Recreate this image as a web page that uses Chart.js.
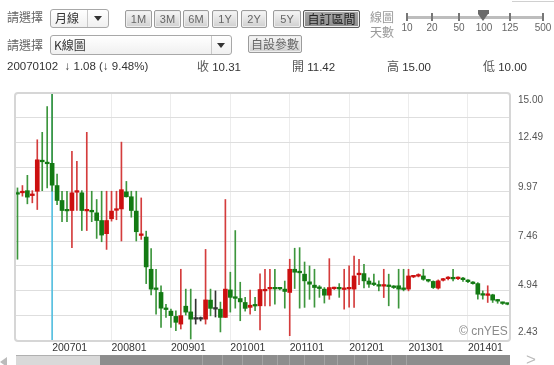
<!DOCTYPE html>
<html><head><meta charset="utf-8">
<script src="https://cdn.jsdelivr.net/npm/chart.js@4/dist/chart.umd.min.js"></script>
<style>
body{margin:0;background:#fff;}
#wrap{position:relative;width:554px;height:365px;overflow:hidden;font-family:"Liberation Sans",Arial,sans-serif;}
#c{position:absolute;left:0;top:0;}
.t{position:absolute;white-space:pre;line-height:1;color:#444;}
.cjk{font-family:"Noto Sans CJK TC","Noto Sans CJK SC",sans-serif;}
.btn{position:absolute;top:10px;height:18px;box-sizing:border-box;border:1px solid #9c9c9c;border-radius:2px;background:linear-gradient(#f7f7f7,#d0d0d0);font-size:11px;color:#666;text-align:center;line-height:16px;box-shadow:inset 0 0 0 1px #eee;}
.sel{position:absolute;box-sizing:border-box;border:1px solid #a8a8a8;border-radius:3px;background:linear-gradient(#fff,#f0f0f0);}
.sel .dv{position:absolute;top:0;bottom:0;width:1px;background:#c8c8c8;}
.arr{position:absolute;width:0;height:0;border-left:4px solid transparent;border-right:4px solid transparent;border-top:5px solid #333;}
.tk{position:absolute;top:13px;width:2px;height:8px;background:#777;}
.tl{position:absolute;top:22px;font-size:10px;color:#666;width:24px;margin-left:-12px;text-align:center;}
.box{position:absolute;left:14px;top:92px;width:497px;height:250px;box-sizing:border-box;border:2px solid #d6d6d6;border-radius:4px;pointer-events:none;}
.nv{position:absolute;top:355px;width:1px;height:10px;background:#a4a4a4;}
</style></head>
<body><div id="wrap">
<canvas id="c" width="554" height="365"></canvas>
<div class="box"></div>

<!-- row 1 -->
<div class="t cjk" style="left:7px;top:11px;font-size:12px;color:#666;">請選擇</div>
<div class="sel" style="left:50px;top:9px;width:59px;height:19px;">
  <div class="t cjk" style="left:4px;top:2px;font-size:12px;color:#333;">月線</div>
  <div class="dv" style="left:36px;"></div>
  <div class="arr" style="left:43px;top:6px;"></div>
</div>
<div class="btn" style="left:125px;width:27px;">1M</div>
<div class="btn" style="left:154px;width:27px;">3M</div>
<div class="btn" style="left:183px;width:26px;">6M</div>
<div class="btn" style="left:212px;width:26px;">1Y</div>
<div class="btn" style="left:241px;width:26px;">2Y</div>
<div class="btn" style="left:273px;width:28px;">5Y</div>
<div class="btn cjk" style="left:303px;width:57px;background:linear-gradient(#a8a8a8,#8e8e8e);border-color:#5a5a5a;color:#222;font-size:12px;">自訂區間</div>
<div class="t cjk" style="left:370px;top:9px;font-size:12px;color:#999;line-height:15px;">線圖<br>天數</div>
<div style="position:absolute;left:406px;top:16px;width:138px;height:3px;background:#bdbdbd;"></div>
<div class="tk" style="left:406px;"></div><div class="tk" style="left:431px;"></div><div class="tk" style="left:458px;"></div><div class="tk" style="left:509px;"></div><div class="tk" style="left:542px;"></div>
<div style="position:absolute;left:478px;top:10px;width:11px;height:4px;background:#6a6a6a;"></div>
<div style="position:absolute;left:478px;top:14px;width:0;height:0;border-left:5.5px solid transparent;border-right:5.5px solid transparent;border-top:7px solid #6a6a6a;"></div>
<div class="tl" style="left:407px;">10</div><div class="tl" style="left:432px;">20</div><div class="tl" style="left:459px;">50</div><div class="tl" style="left:484px;">100</div><div class="tl" style="left:510px;">125</div><div class="tl" style="left:543px;">500</div>
<div style="position:absolute;left:512px;top:1px;width:42px;height:1px;background:#d0d0d0;"></div>

<!-- row 2 -->
<div class="t cjk" style="left:7px;top:39px;font-size:12px;color:#666;">請選擇</div>
<div class="sel" style="left:50px;top:35px;width:182px;height:20px;">
  <div class="t cjk" style="left:3px;top:3px;font-size:12px;color:#333;">K線圖</div>
  <div class="dv" style="left:160px;"></div>
  <div class="arr" style="left:166px;top:7px;"></div>
</div>
<div class="btn cjk" style="left:248px;top:35px;width:54px;font-size:12px;">自設參數</div>

<!-- row 3 -->
<div class="t" style="left:7px;top:61px;font-size:11.5px;color:#333;">20070102  ↓ 1.08 (↓ 9.48%)</div>
<div class="t" style="left:197px;top:60px;font-size:11.5px;color:#333;"><span class="cjk" style="font-size:12px;color:#555;">收</span> 10.31</div>
<div class="t" style="left:292px;top:60px;font-size:11.5px;color:#333;"><span class="cjk" style="font-size:12px;color:#555;">開</span> 11.42</div>
<div class="t" style="left:387px;top:60px;font-size:11.5px;color:#333;"><span class="cjk" style="font-size:12px;color:#555;">高</span> 15.00</div>
<div class="t" style="left:483px;top:60px;font-size:11.5px;color:#333;"><span class="cjk" style="font-size:12px;color:#555;">低</span> 10.00</div>

<div class="t" style="left:459px;top:325px;font-size:12px;color:#8a8a8a;">© cnYES</div>

<!-- navigator -->
<div style="position:absolute;left:0;top:357px;width:0;height:0;border-top:5px solid transparent;border-bottom:5px solid transparent;border-right:7px solid #bbb;"></div>
<div style="position:absolute;left:16px;top:355px;width:85px;height:10px;background:#d9d9d9;border-top:1px solid #b0b0b0;box-sizing:border-box;"></div>
<div style="position:absolute;left:100px;top:355px;width:410px;height:10px;background:#8d8d8d;"></div>
<div class="nv" style="left:202px"></div><div class="nv" style="left:222px"></div><div class="nv" style="left:242px"></div><div class="nv" style="left:262px"></div><div class="nv" style="left:277px"></div><div class="nv" style="left:289px"></div><div class="nv" style="left:304px"></div><div class="nv" style="left:324px"></div><div class="nv" style="left:337px"></div><div class="nv" style="left:354px"></div><div class="nv" style="left:367px"></div><div class="nv" style="left:391px"></div><div class="nv" style="left:406px"></div>
<div class="t" style="left:526px;top:351px;font-size:17px;color:#bbb;">&gt;</div>
</div>

<script>
// ---- data (monthly K-line, 100 candles) ----
const startYear = 2006, startMonth = 6, candleCount = 100;
const months = [];
for (let k = 0; k < candleCount; k++) {
  const m = startMonth - 1 + k;
  months.push(String(startYear + Math.floor(m / 12)) + String(m % 12 + 1).padStart(2, '0'));
}
const opens = [
 9.88, 9.92,10.03, 9.78,10.00,11.55,11.47,11.42,10.29, 9.53,
 9.05, 9.02, 9.95, 9.92, 9.00, 9.02, 8.90, 8.51, 7.84, 8.60,
 9.03, 9.10, 9.97, 9.72, 8.99, 7.75, 7.67, 6.03, 5.05, 4.85,
 4.05, 3.90, 3.63, 3.24, 4.15, 3.86, 3.49, 3.49, 3.49, 4.46,
 4.00, 4.00, 3.58, 4.98, 4.60, 4.54, 4.34, 4.09, 4.20, 4.17,
 4.93, 5.03, 5.08, 5.05, 5.02, 4.85, 6.03, 5.88, 5.78, 5.39,
 5.22, 5.08, 5.02, 4.71, 5.04, 5.08, 5.00, 5.03, 5.02, 5.75,
 5.81, 5.43, 5.30, 5.22, 5.17, 5.20, 5.15, 5.19, 5.05, 5.02,
 5.64, 5.68, 5.69, 5.47, 5.41, 5.07, 5.47, 5.55, 5.58, 5.55,
 5.55, 5.45, 5.36, 5.30, 4.76, 4.70, 4.73, 4.45, 4.33, 4.27];
const highs = [
10.17,10.29,10.81,10.03,12.62,13.00,14.31,15.00,10.88,10.00,
10.00,12.03,11.52,10.03,13.00,10.00, 9.58,10.00,10.00,10.00,
10.00,12.50,10.50,10.00,10.00, 9.66, 7.97, 7.08, 6.03, 5.19,
 4.25, 4.00, 3.92, 6.03, 5.02, 5.02, 4.51, 3.60, 7.04, 5.02,
 4.93, 4.36, 9.58, 5.88, 8.00, 5.37, 4.60, 4.97, 4.60, 5.80,
 6.03, 6.03, 6.03, 5.10, 5.43, 6.54, 7.10, 7.13, 6.40, 6.20,
 6.03, 5.20, 5.10, 6.57, 5.12, 5.30, 6.03, 6.20, 6.70, 6.54,
 6.28, 5.60, 5.78, 5.44, 6.03, 5.78, 5.20, 6.03, 6.03, 6.03,
 5.72, 5.80, 6.03, 5.52, 5.44, 5.49, 5.57, 5.66, 6.03, 5.64,
 5.62, 5.50, 5.40, 5.35, 4.93, 5.19, 4.76, 4.50, 4.36, 4.30];
const lows = [
 6.54, 9.75, 9.36, 9.41, 9.07,10.03,10.17,10.00, 9.32, 8.45,
 8.45, 7.13, 9.02, 8.00, 8.00, 8.45, 7.60, 7.43, 7.04, 8.48,
 8.55, 7.47, 9.70, 8.68, 7.47, 7.55, 5.30, 4.73, 3.75, 3.07,
 3.58, 3.07, 2.90, 2.99, 3.70, 2.48, 3.24, 3.40, 3.24, 3.66,
 3.60, 2.84, 3.58, 3.85, 4.05, 3.41, 3.90, 3.75, 3.92, 2.94,
 4.17, 4.17, 4.25, 4.98, 4.05, 2.65, 5.05, 4.05, 4.09, 4.50,
 4.10, 4.60, 4.31, 4.50, 5.00, 4.60, 4.00, 4.10, 4.09, 5.25,
 5.08, 5.10, 5.19, 4.93, 4.59, 4.17, 5.05, 4.05, 4.93, 4.93,
 5.60, 5.64, 5.47, 5.38, 5.05, 5.02, 5.43, 5.49, 5.44, 5.50,
 5.41, 5.35, 5.27, 4.51, 4.51, 4.34, 4.34, 4.30, 4.24, 4.22];
const closes = [
 9.85,10.00, 9.70, 9.86,11.60,11.50,11.40,10.31, 9.53, 9.02,
 9.00, 9.92, 9.98, 9.02, 9.05, 8.95, 8.51, 7.77, 8.51, 8.99,
 9.10,10.08, 9.72, 9.02, 7.94, 7.82, 6.15, 5.02, 5.00, 4.05,
 3.98, 3.67, 3.33, 3.67, 3.85, 3.49, 3.49, 3.49, 4.47, 4.04,
 4.00, 3.58, 5.02, 4.60, 4.55, 4.37, 4.04, 4.20, 4.16, 5.00,
 5.00, 5.06, 5.03, 5.03, 4.90, 6.03, 5.88, 5.85, 5.44, 5.27,
 5.10, 5.05, 4.71, 5.10, 5.07, 5.03, 5.03, 5.07, 5.69, 5.80,
 5.44, 5.27, 5.25, 5.17, 5.21, 5.15, 5.10, 5.02, 5.00, 5.69,
 5.68, 5.72, 5.52, 5.43, 5.10, 5.44, 5.51, 5.59, 5.54, 5.59,
 5.50, 5.40, 5.30, 4.76, 4.71, 4.74, 4.46, 4.41, 4.29, 4.25];
const cursorMonth = '200701';
const yMin = 2.43, yMax = 15.00;
const yGridValues = [2.43, 3.687, 4.944, 6.201, 7.458, 8.715, 9.972, 11.229, 12.486, 13.743, 15.00];
const yTickLabels = ['2.43', '', '4.94', '', '7.46', '', '9.97', '', '12.49', '', '15.00'];

// ---- styles ----
const UP_BODY = '#cc1010', DOWN_BODY = '#137a13', FLAT = '#333333';
const UP_WICK = '#d43c3c', DOWN_WICK = '#3d963d';
const dir = i => Math.sign(closes[i] - opens[i]);
const bodyColors = months.map((_, i) => dir(i) > 0 ? UP_BODY : dir(i) < 0 ? DOWN_BODY : FLAT);
const wickColors = months.map((_, i) => dir(i) > 0 ? UP_WICK : dir(i) < 0 ? DOWN_WICK : FLAT);
const cursorIdx = months.indexOf(cursorMonth);
const FONT = '"Liberation Sans", Arial, sans-serif';

new Chart(document.getElementById('c'), {
  type: 'bar',
  data: {
    labels: months,
    datasets: [
      { label: 'body', data: opens.map((o, i) => [o, closes[i]]), backgroundColor: bodyColors,
        barThickness: 4, minBarLength: 1.6, grouped: false },
      { label: 'wick', data: lows.map((l, i) => [l, highs[i]]), backgroundColor: wickColors,
        barThickness: 1, grouped: false },
      { label: 'cursor', data: months.map((_, i) => i === cursorIdx ? [yMin, yMax] : null),
        backgroundColor: '#55bfe0', barThickness: 1, grouped: false }
    ]
  },
  options: {
    responsive: false, animation: false, devicePixelRatio: 1,
    layout: { padding: { left: 15, top: 93, right: 0, bottom: 0 } },
    plugins: { legend: { display: false }, tooltip: { enabled: false } },
    scales: {
      x: {
        type: 'category', offset: true,
        grid: { offset: false, color: '#ececec', drawTicks: false },
        border: { display: false },
        afterBuildTicks: ax => { ax.ticks = ax.ticks.filter(t => months[t.value].endsWith('01')); },
        afterFit: ax => { ax.height = 25; },
        ticks: { autoSkip: false, maxRotation: 0, minRotation: 0, align: 'start', padding: 2,
          color: '#333', font: { family: FONT, size: 10.5 }, callback: v => months[v] }
      },
      y: {
        type: 'linear', position: 'right', min: yMin, max: yMax,
        grid: { color: '#dedede', drawTicks: false },
        border: { display: false },
        afterBuildTicks: ax => { ax.ticks = yGridValues.map(v => ({ value: v })); },
        afterFit: ax => { ax.width = 44; },
        ticks: {
          autoSkip: false, padding: 8, color: '#555',
          font: ctx => {
            const i = ctx.index, last = yGridValues.length - 1;
            const lh = i === 0 ? 16 : i === last ? 14 : 10;
            return { family: FONT, size: 10, lineHeight: lh + 'px' };
          },
          callback: (v, i) => {
            const s = yTickLabels[i];
            if (!s) return '';
            return i === yGridValues.length - 1 ? ['', s] : [s, ''];
          }
        }
      }
    }
  }
});
</script>
</body></html>
